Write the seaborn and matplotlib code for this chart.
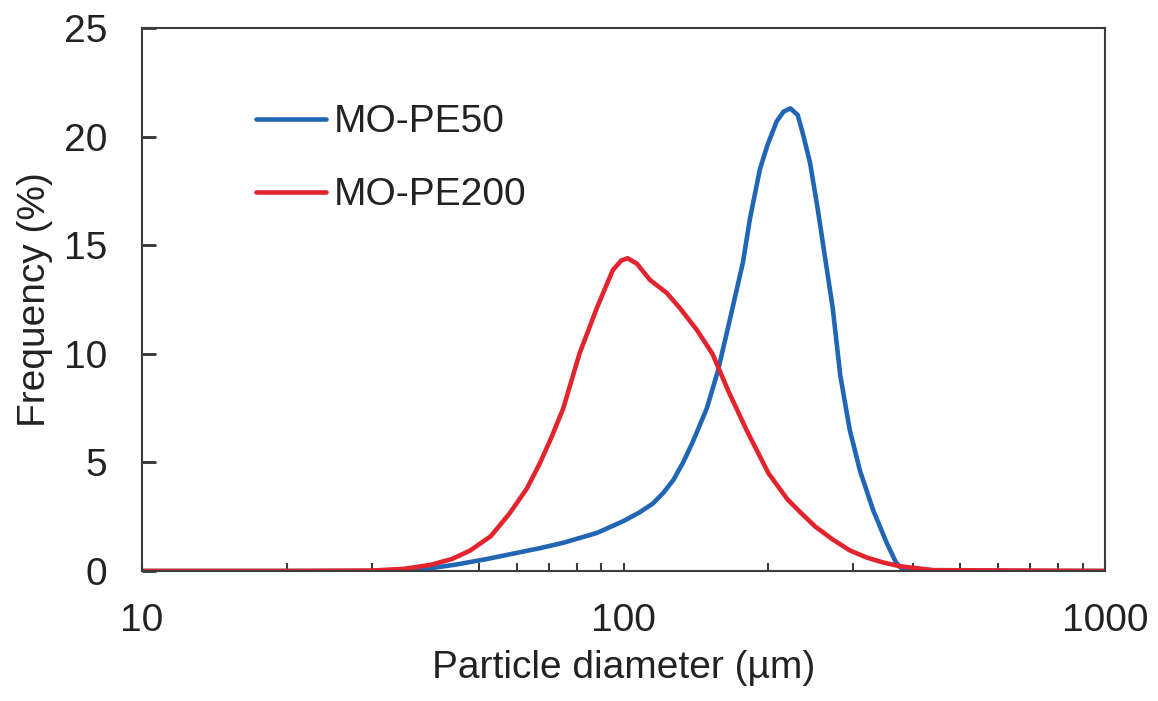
import numpy as np
import pandas as pd
import matplotlib
matplotlib.use("Agg")
import matplotlib.pyplot as plt
import seaborn as sns
from matplotlib.ticker import LogLocator, FixedLocator, NullFormatter

# ---- data ----
pe50_d = [10, 30, 37, 45, 52, 59, 67, 75, 88, 100, 108, 115, 121, 127, 133, 139,
          149, 157, 166, 177, 183, 192, 199, 208, 215, 222, 230, 236, 244, 253,
          272, 282, 295, 310, 330, 352, 368, 382, 1000]
pe50_f = [0, 0, 0.03, 0.3, 0.55, 0.8, 1.05, 1.3, 1.75, 2.3, 2.7, 3.1, 3.6, 4.2, 5.0, 5.9,
          7.5, 9.2, 11.5, 14.2, 16.2, 18.5, 19.6, 20.7, 21.15, 21.3, 21.0, 20.1, 18.8, 16.7,
          12.1, 9.0, 6.5, 4.6, 2.8, 1.3, 0.4, 0.0, 0]

pe200_d = [10, 20, 30, 35, 39.7, 44, 48, 53, 58, 63, 67, 71, 75, 81, 88, 95, 99, 102,
           106.6, 113.5, 123, 131, 142, 153, 165, 180, 200, 219, 233, 250, 272, 295,
           320, 345, 375, 440, 1000]
pe200_f = [0, 0, 0.02, 0.1, 0.28, 0.55, 0.94, 1.6, 2.65, 3.8, 4.95, 6.2, 7.5, 10.0, 12.1,
           13.85, 14.3, 14.4, 14.15, 13.4, 12.8, 12.1, 11.1, 10.0, 8.3, 6.5, 4.5, 3.3, 2.7,
           2.05, 1.45, 0.95, 0.62, 0.4, 0.22, 0.04, 0]

series_names = ["MO-PE50", "MO-PE200"]
series_colors = ["#2166B4", "#E2242E"]
y_ticks = [0, 5, 10, 15, 20, 25]
x_ticks = [10, 100, 1000]
x_tick_labels = ["10", "100", "1000"]

df = pd.concat([
    pd.DataFrame({"d": pe50_d, "f": pe50_f, "sample": series_names[0]}),
    pd.DataFrame({"d": pe200_d, "f": pe200_f, "sample": series_names[1]}),
], ignore_index=True)

sns.set_style("white")
plt.rcParams["font.family"] = ["Liberation Sans", "DejaVu Sans"]
plt.rcParams.update({
    "xtick.bottom": True, "ytick.left": True,
    "xtick.direction": "in", "ytick.direction": "in",
    "xtick.major.size": 6, "xtick.minor.size": 6, "ytick.major.size": 9,
    "xtick.major.width": 1.5, "xtick.minor.width": 1.5, "ytick.major.width": 1.5,
    "xtick.color": "#3c3c3c", "ytick.color": "#3c3c3c",
})

fig = plt.figure(figsize=(11.58, 7.01), dpi=100)
ax = fig.add_axes([142 / 1158, 1 - 571 / 701, (1105 - 142) / 1158, (571 - 28) / 701])

sns.lineplot(data=df, x="d", y="f", hue="sample", palette=series_colors,
             hue_order=series_names, linewidth=3.3, ax=ax, sort=True,
             estimator=None, errorbar=None)

ax.set_xscale("log")
ax.set_xlim(10, 1000)
ax.set_ylim(0, 25)
ax.set_yticks(y_ticks)
ax.set_yticklabels([str(t) for t in y_ticks])
ax.xaxis.set_major_locator(FixedLocator(x_ticks))
ax.set_xticklabels(x_tick_labels)
ax.xaxis.set_minor_locator(LogLocator(base=10, subs=np.arange(2, 10)))
ax.xaxis.set_minor_formatter(NullFormatter())

for s in ax.spines.values():
    s.set_visible(True)
    s.set_color("#3c3c3c")
    s.set_linewidth(1.5)

ax.tick_params(axis="y", which="major", left=True, direction="in", length=10, width=2,
               color="#333333", labelsize=28, pad=25, labelcolor="#222222")
ax.tick_params(axis="x", which="major", bottom=True, direction="in", length=6, width=1.5,
               color="#3c3c3c", labelsize=28, pad=23, labelcolor="#222222")
ax.tick_params(axis="x", which="minor", bottom=True, direction="in", length=6, width=1.5,
               color="#3c3c3c")
ax.tick_params(axis="y", which="minor", left=False)
ax.tick_params(which="both", top=False, right=False)

ax.set_xlabel("Particle diameter (µm)", fontsize=28, color="#222222", labelpad=8)
ax.set_ylabel("Frequency (%)", fontsize=28, color="#222222", labelpad=8)

leg = ax.legend(loc="center left", bbox_to_anchor=(0.118, 0.759), frameon=False,
                fontsize=28, handlelength=1.8, handletextpad=0.2,
                labelspacing=0.95, borderpad=0, borderaxespad=0)
for line in leg.get_lines():
    line.set_linewidth(3.3)
for t in leg.get_texts():
    t.set_color("#222222")

fig.savefig("out.png", dpi=100, facecolor="white")
